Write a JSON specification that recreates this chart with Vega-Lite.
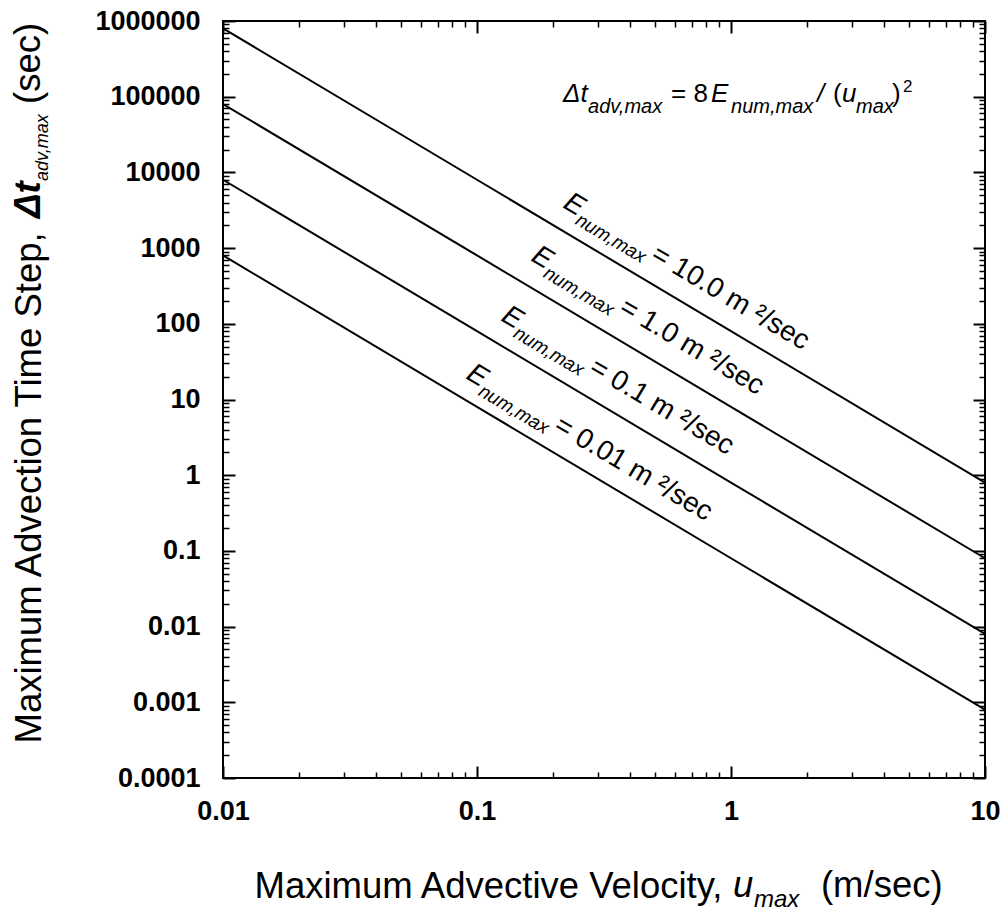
{
  "$schema": "https://vega.github.io/schema/vega-lite/v6.json",
  "width": 762,
  "height": 757,
  "autosize": {"type": "none"},
  "padding": {"left": 223, "top": 21, "right": 22, "bottom": 137},
  "background": "white",
  "config": {
    "view": {"stroke": "black", "strokeWidth": 2},
    "font": "Liberation Sans",
    "text": {"font": "Liberation Sans", "color": "black"},
    "axis": {"domain": false, "grid": false, "tickColor": "black", "labelColor": "black", "titleColor": "black", "labelFlush": false, "labelOverlap": false}
  },
  "datasets": {
    "lines": [
      {"E": "10.0", "u": 0.01, "dt": 800000}, {"E": "10.0", "u": 0.1, "dt": 8000}, {"E": "10.0", "u": 1, "dt": 80}, {"E": "10.0", "u": 10, "dt": 0.8},
      {"E": "1.0", "u": 0.01, "dt": 80000}, {"E": "1.0", "u": 0.1, "dt": 800}, {"E": "1.0", "u": 1, "dt": 8}, {"E": "1.0", "u": 10, "dt": 0.08},
      {"E": "0.1", "u": 0.01, "dt": 8000}, {"E": "0.1", "u": 0.1, "dt": 80}, {"E": "0.1", "u": 1, "dt": 0.8}, {"E": "0.1", "u": 10, "dt": 0.008},
      {"E": "0.01", "u": 0.01, "dt": 800}, {"E": "0.01", "u": 0.1, "dt": 8}, {"E": "0.01", "u": 1, "dt": 0.08}, {"E": "0.01", "u": 10, "dt": 0.0008}
    ],
    "labels": [
      {"E": "10.0", "u": 0.2161, "dt": 3491, "rest": "= 10.0 m ²/sec"},
      {"E": "1.0", "u": 0.1617, "dt": 696.6, "rest": "= 1.0 m ²/sec"},
      {"E": "0.1", "u": 0.1232, "dt": 112.2, "rest": "= 0.1 m ²/sec"},
      {"E": "0.01", "u": 0.0897, "dt": 19.2, "rest": "= 0.01 m ²/sec"}
    ],
    "eq": [{"u": 0.2182, "dt": 85900}],
    "xt": [{"u": 1.018, "dt": 0.00000268}],
    "yt": [{"u": 0.001903, "dt": 2500}]
  },
  "encoding": {
    "x": {"field": "u", "type": "quantitative", "scale": {"type": "log", "domain": [0.01, 10], "nice": false}, "axis": null},
    "y": {"field": "dt", "type": "quantitative", "scale": {"type": "log", "domain": [0.0001, 1000000], "nice": false}, "axis": null}
  },
  "layer": [
    {
      "data": {"name": "lines"},
      "mark": {"type": "line", "color": "black", "strokeWidth": 2},
      "encoding": {
        "x": {"field": "u", "type": "quantitative", "scale": {"type": "log", "domain": [0.01, 10], "nice": false},
          "axis": {"orient": "bottom", "values": [0.01, 0.1, 1, 10], "tickSize": -12, "tickWidth": 2, "labelExpr": "format(datum.value, '~f')",
            "labelFont": "Liberation Sans", "labelFontSize": 27, "labelFontWeight": "bold", "labelPadding": 32,
            "title": "Maximum Advective Velocity,", "titleFont": "Liberation Sans", "titleFontSize": 36.5, "titleFontWeight": "normal",
            "titleX": 31, "titleY": 119, "titleAlign": "left", "titleAnchor": "start", "titleBaseline": "alphabetic"}},
        "y": {"field": "dt", "type": "quantitative", "scale": {"type": "log", "domain": [0.0001, 1000000], "nice": false},
          "axis": {"orient": "left", "values": [0.0001, 0.001, 0.01, 0.1, 1, 10, 100, 1000, 10000, 100000, 1000000], "tickSize": -12, "tickWidth": 2, "labelExpr": "format(datum.value, '~f')",
            "labelFont": "Liberation Sans", "labelFontSize": 27, "labelFontWeight": "bold", "labelPadding": 35,
            "title": "Maximum Advection Time Step,", "titleFont": "Liberation Sans", "titleFontSize": 36.5, "titleFontWeight": "normal",
            "titleX": -183, "titleY": 722, "titleAngle": 270, "titleAlign": "left", "titleAnchor": "start", "titleBaseline": "alphabetic"}},
        "detail": {"field": "E"}
      }
    },
    {
      "data": {"name": "labels"},
      "mark": {"type": "text", "text": "E", "angle": 30.8, "fontStyle": "italic", "fontSize": 28, "align": "left", "baseline": "alphabetic"},
      "encoding": {
        "x": {"field": "u", "type": "quantitative", "scale": {"type": "log", "domain": [0.01, 10], "nice": false},
          "axis": {"orient": "top", "values": [0.01, 0.1, 1, 10], "tickSize": -12, "tickWidth": 2, "labels": false, "title": null}},
        "y": {"field": "dt", "type": "quantitative", "scale": {"type": "log", "domain": [0.0001, 1000000], "nice": false},
          "axis": {"orient": "right", "values": [0.0001, 0.001, 0.01, 0.1, 1, 10, 100, 1000, 10000, 100000, 1000000], "tickSize": -12, "tickWidth": 2, "labels": false, "title": null}}
      }
    },
    {
      "data": {"name": "labels"},
      "mark": {"type": "text", "text": "num,max", "angle": 30.8, "fontStyle": "italic", "fontSize": 19, "align": "left", "baseline": "alphabetic", "dx": 19, "dy": 8},
      "encoding": {
        "x": {"field": "u", "type": "quantitative", "scale": {"type": "log", "domain": [0.01, 10], "nice": false},
          "axis": {"orient": "bottom", "values": [0.02, 0.03, 0.04, 0.05, 0.06, 0.07, 0.08, 0.09, 0.2, 0.3, 0.4, 0.5, 0.6, 0.7, 0.8, 0.9, 2, 3, 4, 5, 6, 7, 8, 9], "tickSize": -6, "tickWidth": 1.5, "labels": false, "title": null}},
        "y": {"field": "dt", "type": "quantitative", "scale": {"type": "log", "domain": [0.0001, 1000000], "nice": false},
          "axis": {"orient": "left", "values": [0.0002, 0.0003, 0.0004, 0.0005, 0.0006, 0.0007, 0.0008, 0.0009, 0.002, 0.003, 0.004, 0.005, 0.006, 0.007, 0.008, 0.009, 0.02, 0.03, 0.04, 0.05, 0.06, 0.07, 0.08, 0.09, 0.2, 0.3, 0.4, 0.5, 0.6, 0.7, 0.8, 0.9, 2, 3, 4, 5, 6, 7, 8, 9, 20, 30, 40, 50, 60, 70, 80, 90, 200, 300, 400, 500, 600, 700, 800, 900, 2000, 3000, 4000, 5000, 6000, 7000, 8000, 9000, 20000, 30000, 40000, 50000, 60000, 70000, 80000, 90000, 200000, 300000, 400000, 500000, 600000, 700000, 800000, 900000], "tickSize": -6, "tickWidth": 1.5, "labels": false, "title": null}}
      }
    },
    {
      "data": {"name": "labels"},
      "mark": {"type": "text", "angle": 30.8, "fontSize": 28, "align": "left", "baseline": "alphabetic", "dx": 102},
      "encoding": {
        "text": {"field": "rest"},
        "x": {"field": "u", "type": "quantitative", "scale": {"type": "log", "domain": [0.01, 10], "nice": false},
          "axis": {"orient": "top", "values": [0.02, 0.03, 0.04, 0.05, 0.06, 0.07, 0.08, 0.09, 0.2, 0.3, 0.4, 0.5, 0.6, 0.7, 0.8, 0.9, 2, 3, 4, 5, 6, 7, 8, 9], "tickSize": -6, "tickWidth": 1.5, "labels": false, "title": null}},
        "y": {"field": "dt", "type": "quantitative", "scale": {"type": "log", "domain": [0.0001, 1000000], "nice": false},
          "axis": {"orient": "right", "values": [0.0002, 0.0003, 0.0004, 0.0005, 0.0006, 0.0007, 0.0008, 0.0009, 0.002, 0.003, 0.004, 0.005, 0.006, 0.007, 0.008, 0.009, 0.02, 0.03, 0.04, 0.05, 0.06, 0.07, 0.08, 0.09, 0.2, 0.3, 0.4, 0.5, 0.6, 0.7, 0.8, 0.9, 2, 3, 4, 5, 6, 7, 8, 9, 20, 30, 40, 50, 60, 70, 80, 90, 200, 300, 400, 500, 600, 700, 800, 900, 2000, 3000, 4000, 5000, 6000, 7000, 8000, 9000, 20000, 30000, 40000, 50000, 60000, 70000, 80000, 90000, 200000, 300000, 400000, 500000, 600000, 700000, 800000, 900000], "tickSize": -6, "tickWidth": 1.5, "labels": false, "title": null}}
      }
    },
    {"data": {"name": "eq"}, "mark": {"type": "text", "text": "Δt", "fontStyle": "italic", "fontSize": 26, "align": "left", "baseline": "alphabetic", "dx": 0}},
    {"data": {"name": "eq"}, "mark": {"type": "text", "text": "adv,max", "fontStyle": "italic", "fontSize": 20, "align": "left", "baseline": "alphabetic", "dx": 25, "dy": 11}},
    {"data": {"name": "eq"}, "mark": {"type": "text", "text": "= 8", "fontSize": 26, "align": "left", "baseline": "alphabetic", "dx": 108}},
    {"data": {"name": "eq"}, "mark": {"type": "text", "text": "E", "fontStyle": "italic", "fontSize": 26, "align": "left", "baseline": "alphabetic", "dx": 148}},
    {"data": {"name": "eq"}, "mark": {"type": "text", "text": "num,max", "fontStyle": "italic", "fontSize": 20, "align": "left", "baseline": "alphabetic", "dx": 168, "dy": 11}},
    {"data": {"name": "eq"}, "mark": {"type": "text", "text": "/", "fontStyle": "italic", "fontSize": 26, "align": "left", "baseline": "alphabetic", "dx": 254}},
    {"data": {"name": "eq"}, "mark": {"type": "text", "text": "(", "fontSize": 26, "align": "left", "baseline": "alphabetic", "dx": 270}},
    {"data": {"name": "eq"}, "mark": {"type": "text", "text": "u", "fontStyle": "italic", "fontSize": 26, "align": "left", "baseline": "alphabetic", "dx": 279}},
    {"data": {"name": "eq"}, "mark": {"type": "text", "text": "max", "fontStyle": "italic", "fontSize": 20, "align": "left", "baseline": "alphabetic", "dx": 293, "dy": 11}},
    {"data": {"name": "eq"}, "mark": {"type": "text", "text": ")", "fontSize": 26, "align": "left", "baseline": "alphabetic", "dx": 329}},
    {"data": {"name": "eq"}, "mark": {"type": "text", "text": "2", "fontSize": 17, "align": "left", "baseline": "alphabetic", "dx": 340, "dy": -10}},
    {"data": {"name": "xt"}, "mark": {"type": "text", "text": "u", "fontStyle": "italic", "fontSize": 36.5, "align": "left", "baseline": "alphabetic", "dx": 0}},
    {"data": {"name": "xt"}, "mark": {"type": "text", "text": "max", "fontStyle": "italic", "fontSize": 24, "align": "left", "baseline": "alphabetic", "dx": 21, "dy": 10}},
    {"data": {"name": "xt"}, "mark": {"type": "text", "text": "(m/sec)", "fontSize": 36.5, "align": "left", "baseline": "alphabetic", "dx": 88}},
    {"data": {"name": "yt"}, "mark": {"type": "text", "text": "Δt", "fontStyle": "italic", "fontWeight": "bold", "fontSize": 36.5, "angle": 270, "align": "left", "baseline": "alphabetic", "dx": 0}},
    {"data": {"name": "yt"}, "mark": {"type": "text", "text": "adv,max", "fontStyle": "italic", "fontSize": 18, "angle": 270, "align": "left", "baseline": "alphabetic", "dx": 37, "dy": 8}},
    {"data": {"name": "yt"}, "mark": {"type": "text", "text": "(sec)", "fontSize": 36.5, "angle": 270, "align": "left", "baseline": "alphabetic", "dx": 114}}
  ],
  "resolve": {"axis": {"x": "independent", "y": "independent"}}
}
